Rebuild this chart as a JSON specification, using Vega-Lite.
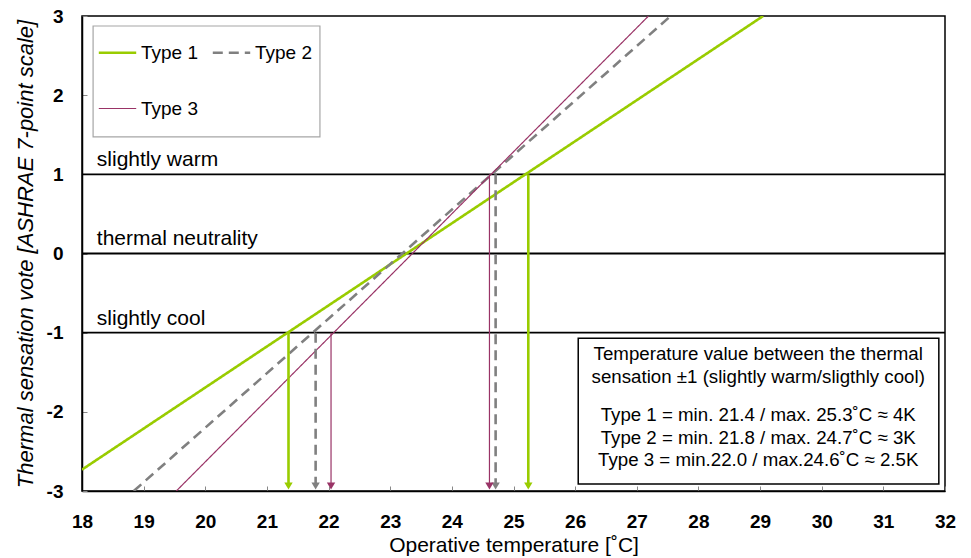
{
  "$schema": "https://vega.github.io/schema/vega-lite/v6.json",
  "width": 863,
  "height": 475,
  "autosize": {"type": "none"},
  "padding": {"left": 82, "top": 16, "right": 26, "bottom": 67},
  "background": "white",
  "config": {
    "font": "Liberation Sans",
    "view": {"stroke": "#000", "strokeWidth": 1.5},
    "legend": {
      "orient": "none",
      "legendX": 8,
      "legendY": 9,
      "columns": 2,
      "direction": "horizontal",
      "symbolType": "stroke",
      "symbolSize": 1400,
      "labelFontSize": 19,
      "labelColor": "#000",
      "labelOffset": 3,
      "columnPadding": 8,
      "rowPadding": 26,
      "padding": 7,
      "title": null
    }
  },
  "datasets": {
    "lines": [
      {"type": "Type 1", "t": 18.0, "v": -2.73},
      {"type": "Type 1", "t": 29.05, "v": 3},
      {"type": "Type 2", "t": 18.84, "v": -3},
      {"type": "Type 2", "t": 27.55, "v": 3},
      {"type": "Type 3", "t": 19.53, "v": -3},
      {"type": "Type 3", "t": 27.19, "v": 3}
    ],
    "arrows": [
      {"type": "Type 1", "t": 21.35, "v": -1},
      {"type": "Type 1", "t": 25.24, "v": 1},
      {"type": "Type 2", "t": 21.79, "v": -1},
      {"type": "Type 2", "t": 24.71, "v": 1},
      {"type": "Type 3", "t": 22.04, "v": -1},
      {"type": "Type 3", "t": 24.61, "v": 1}
    ],
    "refs": [
      {"v": 1, "t": 18, "t2": 32},
      {"v": 0, "t": 18, "t2": 32},
      {"v": -1, "t": 18, "t2": 32}
    ],
    "reflabels": [
      {"t": 18.24, "v": 1.18, "label": "slightly warm"},
      {"t": 18.24, "v": 0.18, "label": "thermal neutrality"},
      {"t": 18.24, "v": -0.83, "label": "slightly cool"}
    ],
    "legendbox": [
      {"t": 18.18, "t2": 21.86, "v": 2.874, "v2": 1.472}
    ],
    "box": [
      {"t": 26.05, "t2": 31.9, "v": -1.07, "v2": -2.91}
    ],
    "boxtext": [
      {"t": 28.97, "v": -1.16, "text": "Temperature value between the thermal\nsensation ±1 (slightly warm/sligthly cool)"},
      {"t": 28.97, "v": -1.93, "text": "Type 1 = min. 21.4 / max. 25.3˚C ≈ 4K\nType 2 = min. 21.8 / max. 24.7˚C ≈ 3K\nType 3 = min.22.0 / max.24.6˚C ≈ 2.5K"}
    ]
  },
  "encoding": {
    "x": {
      "field": "t", "type": "quantitative",
      "scale": {"domain": [18, 32], "nice": false, "zero": false},
      "axis": {
        "title": "Operative temperature [˚C]",
        "titleFontSize": 21, "titleFontWeight": "normal", "titleColor": "#000", "titlePadding": 3,
        "values": [18,19,20,21,22,23,24,25,26,27,28,29,30,31,32],
        "labelExpr": "'' + datum.value",
        "labelFlush": false,
        "labelFontSize": 19, "labelFontWeight": "bold", "labelColor": "#000", "labelPadding": 26,
        "tickSize": -5, "tickColor": "#888", "domainColor": "#000", "domainWidth": 1.5, "grid": false
      }
    },
    "y": {
      "field": "v", "type": "quantitative",
      "scale": {"domain": [-3, 3], "nice": false, "zero": false},
      "axis": {
        "title": "Thermal sensation vote [ASHRAE 7-point scale]",
        "titleFontSize": 22, "titleFontWeight": "normal", "titleFontStyle": "italic", "titleColor": "#000", "titlePadding": 9,
        "values": [-3,-2,-1,0,1,2,3],
        "labelExpr": "'' + datum.value",
        "labelFlush": false,
        "labelFontSize": 19, "labelFontWeight": "bold", "labelColor": "#000", "labelPadding": 24,
        "tickSize": -5, "tickColor": "#888", "domainColor": "#000", "domainWidth": 1.5, "grid": false
      }
    }
  },
  "layer": [
    {
      "data": {"name": "refs"},
      "mark": {"type": "rule", "color": "#000", "strokeWidth": 1.8},
      "encoding": {"x2": {"field": "t2"}}
    },
    {
      "data": {"name": "reflabels"},
      "mark": {"type": "text", "align": "left", "baseline": "middle", "fontSize": 21, "color": "#000"},
      "encoding": {"text": {"field": "label"}}
    },
    {
      "data": {"name": "legendbox"},
      "mark": {"type": "rect", "fill": "white", "stroke": "#a6a6a6", "strokeWidth": 1.2},
      "encoding": {"x2": {"field": "t2"}, "y2": {"field": "v2"}}
    },
    {
      "data": {"name": "lines"},
      "mark": {"type": "line", "clip": true},
      "encoding": {
        "color": {
          "field": "type", "type": "nominal",
          "scale": {"domain": ["Type 1", "Type 2", "Type 3"], "range": ["#99cc00", "#808080", "#993366"]}
        },
        "strokeDash": {
          "field": "type", "type": "nominal",
          "scale": {"type": "ordinal", "domain": ["Type 1", "Type 2", "Type 3"], "range": [[1, 0], [10, 6], [1, 0]]}
        },
        "strokeWidth": {
          "field": "type", "type": "nominal",
          "scale": {"type": "ordinal", "domain": ["Type 1", "Type 2", "Type 3"], "range": [2.6, 2.6, 1.2]}
        }
      }
    },
    {
      "data": {"name": "arrows"},
      "mark": {"type": "rule"},
      "encoding": {
        "y2": {"datum": -2.93},
        "color": {"field": "type", "type": "nominal"},
        "strokeDash": {
          "field": "type", "type": "nominal",
          "scale": {"type": "ordinal", "domain": ["Type 1", "Type 2", "Type 3"], "range": [[1, 0], [10, 6], [1, 0]]}
        },
        "strokeWidth": {
          "field": "type", "type": "nominal",
          "scale": {"type": "ordinal", "domain": ["Type 1", "Type 2", "Type 3"], "range": [2.6, 2.6, 1.2]}
        }
      }
    },
    {
      "data": {"name": "arrows"},
      "mark": {"type": "point", "shape": "triangle-down", "filled": true, "size": 70, "opacity": 1, "yOffset": -5},
      "encoding": {
        "y": {"datum": -3},
        "color": {"field": "type", "type": "nominal"}
      }
    },
    {
      "data": {"name": "box"},
      "mark": {"type": "rect", "fill": "white", "stroke": "#000", "strokeWidth": 1.5},
      "encoding": {
        "x2": {"field": "t2"},
        "y2": {"field": "v2"}
      }
    },
    {
      "data": {"name": "boxtext"},
      "mark": {"type": "text", "align": "center", "baseline": "top", "fontSize": 18.7, "lineHeight": 22.5, "lineBreak": "\n", "color": "#000"},
      "encoding": {"text": {"field": "text"}}
    }
  ]
}
